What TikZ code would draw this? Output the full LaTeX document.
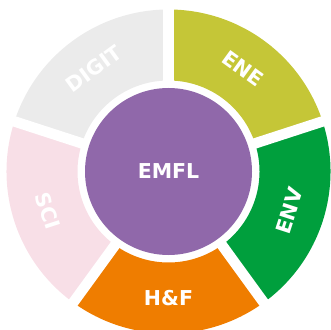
\documentclass[tikz,border=0pt]{standalone}
\usepackage{fontspec}
\setmainfont{DejaVu Sans}
\usepackage{xcolor}
\definecolor{digitgray}{HTML}{EBEBEB}
\definecolor{enegreen}{HTML}{C5C637}
\definecolor{envgreen}{HTML}{009F3D}
\definecolor{hforange}{HTML}{EF7D00}
\definecolor{scipink}{HTML}{F8DFE7}
\definecolor{emflpurple}{HTML}{9068AA}

\begin{document}
\begin{tikzpicture}[x=1pt,y=1pt,font=\bfseries\fontsize{20.5}{20.5}\selectfont]
\useasboundingbox (0,0) rectangle (331,329);
\coordinate (c) at (168.5,157.5);
% ring segments
\foreach \ang/\col/\nm/\lab/\rot in {54/enegreen/ene/ENE/-36,-18/envgreen/env/ENV/72,-90/hforange/hf/H\&F/0,-162/scipink/sci/SCI/-72,126/digitgray/digit/DIGIT/36} {
\fill[\col] ([shift={(\ang-36:162)}]c) arc[start angle=\ang-36,end angle=\ang+36,radius=162]
  -- ([shift={(\ang+36:91)}]c) arc[start angle=\ang+36,end angle=\ang-36,radius=91] -- cycle;
\node[white,rotate=\rot,inner sep=0] (\nm) at ([shift={(\ang:127)}]c) {\lab};
}
% gaps between segments
\foreach \g in {18,90,162,234,306}
\draw[white,line width=10.5] (c) -- ++(\g:170);
\node[circle,fill=emflpurple,minimum size=167,inner sep=0,text=white] (emfl) at (c) {EMFL};
\end{tikzpicture}
\end{document}
